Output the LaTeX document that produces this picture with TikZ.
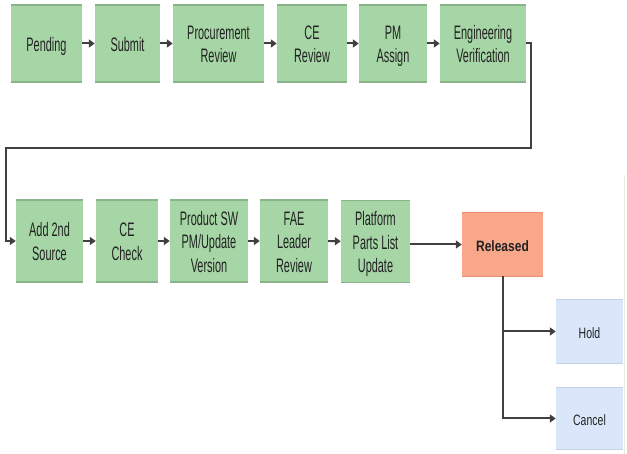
\documentclass[tikz,border=0pt]{standalone}
\usepackage{fontspec}
\setmainfont{Liberation Sans}
\usepackage{graphicx}
\usetikzlibrary{arrows.meta,calc,positioning}

\definecolor{stepgreen}{HTML}{A6D6A6}
\definecolor{stepgreenedge}{HTML}{8AB38A}
\definecolor{relorange}{HTML}{F9A78A}
\definecolor{relorangeedge}{HTML}{E8916F}
\definecolor{endblue}{HTML}{DAE7FB}
\definecolor{endblueedge}{HTML}{C3D1E6}
\definecolor{linegray}{HTML}{404040}
\definecolor{textgray}{HTML}{222222}
\definecolor{faintline}{HTML}{ECEBDF}

% squeezed text, as in the screenshot
\newcommand{\boxtext}[2][0.56]{\raisebox{-3pt}[\height][\depth]{%
  \scalebox{#1}[1]{\begin{tabular}{@{}c@{}}#2\end{tabular}}}}

\begin{document}
\begin{tikzpicture}[x=1pt,y=-1pt,
  greenbox/.style={fill=stepgreen, inner sep=0pt, minimum height=77pt, text=textgray,
    font=\fontsize{19.5}{23.5}\selectfont},
  lowgreen/.style={greenbox, minimum height=82pt},
  relbox/.style={fill=relorange, inner sep=0pt, minimum width=81pt, minimum height=63pt,
    text=textgray, font=\fontsize{15}{18}\selectfont\bfseries},
  endbox/.style={fill=endblue, inner sep=0pt, minimum width=67pt, text=textgray,
    font=\fontsize{15}{18}\selectfont},
  flow/.style={draw=linegray, line width=2pt, -{Triangle[length=6pt,width=8pt]}}]
\useasboundingbox (0,0) rectangle (627,454);

% top row
\node[greenbox, minimum width=71pt] (pend) at (46.5,43.5) {\boxtext{Pending}};
\node[greenbox, minimum width=65pt] (subm) at (127.5,43.5) {\boxtext{Submit}};
\node[greenbox, minimum width=91pt] (proc) at (218.5,43.5) {\boxtext{Procurement\\Review}};
\node[greenbox, minimum width=70pt] (cerev) at (312,43.5) {\boxtext{CE\\Review}};
\node[greenbox, minimum width=68pt] (pmas) at (393,43.5) {\boxtext{PM\\Assign}};
\node[greenbox, minimum width=86pt] (engv) at (483,43.5) {\boxtext{Engineering\\Verification}};

% bottom row
\node[lowgreen, minimum width=67pt] (add) at (49.5,241) {\boxtext{Add 2nd\\Source}};
\node[lowgreen, minimum width=62pt] (cechk) at (127,241) {\boxtext{CE\\Check}};
\node[lowgreen, minimum width=78pt] (prod) at (209,241) {\boxtext{Product SW\\PM/Update\\Version}};
\node[lowgreen, minimum width=68pt] (fae) at (294,241) {\boxtext{FAE\\Leader\\Review}};
\node[lowgreen, minimum width=69pt] (plat) at (375.5,241.5) {\boxtext{Platform\\Parts List\\Update}};

% end states
\node[relbox] (rel) at (502.5,244.5) {\boxtext[0.8]{Released}};
\node[endbox, minimum height=63pt] (hold) at (589.5,331.5) {\boxtext[0.7]{Hold}};
\node[endbox, minimum height=61pt] (canc) at (589.5,418.5) {\boxtext[0.7]{Cancel}};

% top and bottom edges of the boxes
\foreach \n in {pend,subm,proc,cerev,pmas,engv,add,cechk,prod,fae,plat}
  \draw[stepgreenedge, line width=1.5pt] (\n.north west) -- (\n.north east)
    (\n.south west) -- (\n.south east);
\draw[relorangeedge, line width=1.2pt] (rel.north west) -- (rel.north east)
  (rel.south west) -- (rel.south east);
\foreach \n in {hold,canc}
  \draw[endblueedge, line width=1.2pt] (\n.north west) -- (\n.north east)
    (\n.south west) -- (\n.south east);

% connectors
\draw[flow] (pend) -- (subm);
\draw[flow] (subm) -- (proc);
\draw[flow] (proc) -- (cerev);
\draw[flow] (cerev) -- (pmas);
\draw[flow] (pmas) -- (engv);
\coordinate (bend) at (6,148);
\draw[flow] (engv.east) -- ++(5,0) |- (bend) |- (add.west);
\draw[flow] (add) -- (cechk);
\draw[flow] (cechk) -- (prod);
\draw[flow] (prod) -- (fae);
\draw[flow] (fae) -- (plat);
\draw[flow] (plat.east |- rel.west) -- (rel.west);
\draw[flow] (rel.south) |- (hold.west);
\draw[flow] (rel.south) |- (canc.west);

\draw[faintline, line width=1pt] (624.5,175) -- (624.5,454);
\end{tikzpicture}
\end{document}
